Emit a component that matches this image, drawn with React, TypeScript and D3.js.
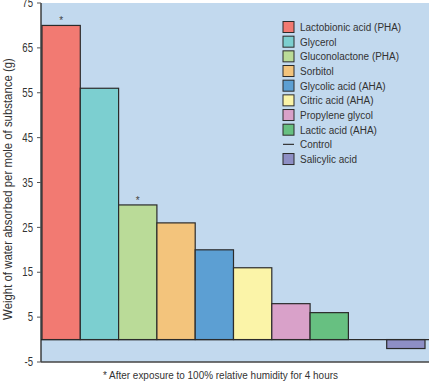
import React from "react";
import * as d3 from "d3";

const categories = [
  "Lactobionic acid (PHA)",
  "Glycerol",
  "Gluconolactone (PHA)",
  "Sorbitol",
  "Glycolic acid (AHA)",
  "Citric acid (AHA)",
  "Propylene glycol",
  "Lactic acid (AHA)",
  "Control",
  "Salicylic acid",
];
const values = [70, 56, 30, 26, 20, 16, 8, 6, 0, -2];
const colors = [
  "#f27a72",
  "#7ccfd0",
  "#badb98",
  "#f3c47c",
  "#5c9fd3",
  "#fbf4a8",
  "#d9a1c9",
  "#67c081",
  "none",
  "#8e8fc5",
];
const starred = [true, false, true, false, false, false, false, false, false, false];
const yTicks = [75, 65, 55, 45, 35, 25, 15, 5, -5];
const yTitle = "Weight of water absorbed per mole of substance (g)";
const footnote = "* After exposure to 100% relative humidity for 4 hours";

const W = 429;
const H = 383;
const FONT = "'Liberation Sans', Arial, sans-serif";
const SQ = 0.865;

export default function App() {
  const plotL = 41;
  const plotR = 429;
  const plotT = 3;
  const plotB = 362;
  const y = d3.scaleLinear().domain([-5, 75]).range([plotB, plotT]);
  const x = d3.scaleBand<string>().domain(categories).range([42, 425]).padding(0);
  const bw = x.bandwidth();

  return (
    <svg
      width={W}
      height={H}
      style={{ position: "absolute", left: 0, top: 0, fontFamily: FONT }}
    >
      <rect x={0} y={0} width={W} height={H} fill="#ffffff" />
      <rect x={plotL} y={plotT} width={plotR - plotL} height={plotB - plotT} fill="#c2d9ee" />

      {/* bars */}
      {categories.map((c, i) => {
        const v = values[i];
        if (v === 0) return null;
        const y0 = y(Math.max(0, v));
        const y1 = y(Math.min(0, v));
        return (
          <rect
            key={c}
            x={x(c)!}
            y={y0}
            width={bw}
            height={y1 - y0}
            fill={colors[i]}
            stroke="#2b2b2b"
            strokeWidth={1.2}
          />
        );
      })}
      {/* zero (control) line */}
      <line x1={plotL} x2={plotR} y1={y(0)} y2={y(0)} stroke="#2b2b2b" strokeWidth={1.2} />

      {/* asterisks */}
      {categories.map((c, i) =>
        starred[i] ? (
          <text
            key={"s" + c}
            x={x(c)! + bw / 2}
            y={y(values[i]) - 1}
            textAnchor="middle"
            fontSize={10}
            fill="#444"
          >
            *
          </text>
        ) : null
      )}

      {/* axes */}
      <line x1={plotL} x2={plotL} y1={plotT} y2={plotB} stroke="#222" strokeWidth={1.3} />
      <line x1={plotL} x2={plotR} y1={plotB} y2={plotB} stroke="#444" strokeWidth={1.3} />
      {yTicks.map((t) => (
        <g key={t}>
          <line x1={plotL - 4} x2={plotL} y1={y(t)} y2={y(t)} stroke="#555" strokeWidth={1} />
          <text
            transform={`translate(${plotL - 8}, ${y(t)}) scale(0.8, 1)`}
            dy="0.35em"
            textAnchor="end"
            fontSize={12}
            fill="#333"
          >
            {t}
          </text>
        </g>
      ))}
      <text
        transform={`translate(8, ${189}) rotate(-90) scale(0.95, 1)`}
        textAnchor="middle"
        dy="0.35em"
        fontSize={12}
        fill="#333"
      >
        {yTitle}
      </text>

      {/* legend */}
      {categories.map((c, i) => {
        const cy = 27 + i * 14.67;
        return (
          <g key={"l" + c}>
            {c === "Control" ? (
              <line x1={283} x2={294} y1={cy} y2={cy} stroke="#333" strokeWidth={1.2} />
            ) : (
              <rect
                x={283}
                y={cy - 5.5}
                width={11}
                height={11}
                fill={colors[i]}
                stroke="#2b2b2b"
                strokeWidth={1}
              />
            )}
            <text
              transform={`translate(300, ${cy}) scale(${SQ}, 1)`}
              dy="0.35em"
              fontSize={11.5}
              fill="#333"
            >
              {c}
            </text>
          </g>
        );
      })}

      {/* footnote */}
      <text transform={`translate(103, 379) scale(${SQ}, 1)`} fontSize={11.5} fill="#333">
        {footnote}
      </text>
    </svg>
  );
}
